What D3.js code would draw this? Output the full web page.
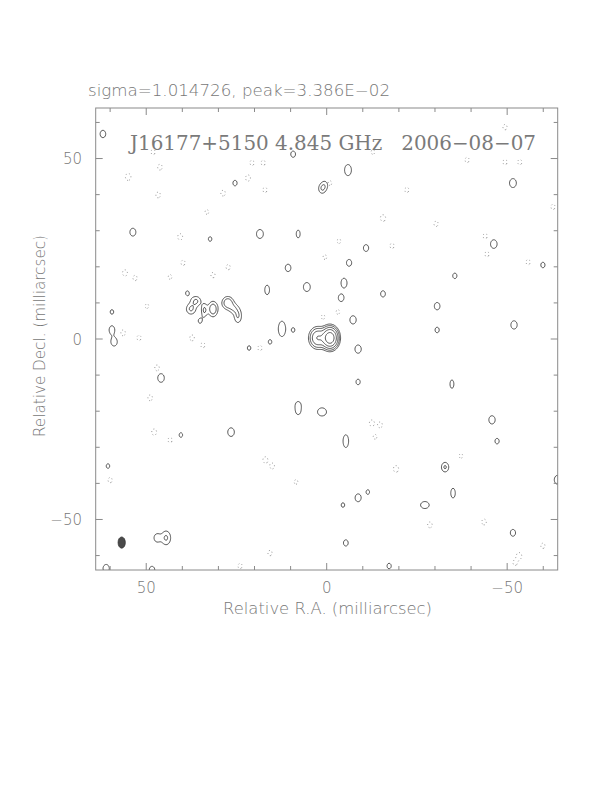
<!DOCTYPE html>
<meta charset="utf-8">
<style>
body { margin: 0; background: #fff; }
text { font-family: "DejaVu Sans", sans-serif; font-weight: 200; fill: #777; }
</style>
<body>
<script src="https://d3js.org/d3.v7.min.js"></script>
<script>
// ---- data (all in milliarcsec / map units) ----
var topTitle = "sigma=1.014726, peak=3.386E\u221202";
var mapTitle = "J16177+5150 4.845 GHz\u00a0\u00a0\u00a02006\u221208\u221207";
var xLabel = "Relative R.A. (milliarcsec)";
var yLabel = "Relative Decl. (milliarcsec)";
var minorTicks = [60, 50, 40, 30, 20, 10, 0, -10, -20, -30, -40, -50, -60];
var majorTicks = [50, 0, -50];
var levels = [1, 2, 4, 8, 16];
var negLevels = [1];

// core: ra, dec, amp, sx, sy
var core = [[-0.9, 0.3, 26, 1.15, 1.5], [2.5, 0.3, 8, 1.25, 1.55]];
// jet knots east of the core
var jet = [
  [37.6, 8.3, 2.2, 1.0, 1.1], [36.2, 10.5, 2.2, 1.0, 1.0],
  [33.9, 8.0, 2.2, 0.6, 1.3], [31.5, 8.3, 3.2, 0.9, 1.4],
  [27.4, 10.0, 3.3, 1.05, 1.15], [25.8, 8.4, 1.7, 0.9, 1.0],
  [24.6, 6.4, 2.1, 0.8, 1.5]
];
// small positive islands: ra, dec, amp[, sx, sy]
var islands = [
  [62.0, 56.8, 1.6], [-5.9, 46.8, 2.0, 0.8, 1.3], [9.3, 51.2, 1.4], [0.5, 42.7, 1.3],
  [1.3, 41.6, 1.8], [25.4, 43.2, 1.3], [-51.6, 43.2, 2.0], [53.7, 29.6, 1.7],
  [18.5, 29.1, 2.0], [7.9, 29.1, 1.6, 0.55, 1.1], [32.3, 27.7, 1.2], [-46.3, 26.3, 1.9],
  [-10.9, 25.2, 1.5], [-35.5, 17.5, 1.3], [-6.2, 21.1, 1.5], [10.7, 19.7, 1.6],
  [-59.9, 20.5, 1.3], [-15.6, 12.5, 1.4], [-4.8, 15.5, 1.7, 0.8, 1.3], [-4.0, 11.4, 1.6],
  [-30.6, 9.1, 1.6], [5.5, 14.4, 2.0], [16.5, 13.6, 1.8, 0.6, 1.2], [12.4, 2.8, 2.0, 0.85, 1.8],
  [9.3, 2.5, 1.2], [59.5, 2.5, 1.6, 0.8, 1.2], [58.9, -0.8, 1.8], [59.5, 7.5, 1.2],
  [-30.6, 2.5, 1.3], [-51.9, 3.9, 1.8], [-7.3, 5.3, 1.8], [-8.7, -2.8, 1.8],
  [45.9, -10.8, 1.9], [-34.7, -12.5, 1.6, 0.55, 1.2], [-8.7, -11.9, 1.3], [7.9, -18.3, 1.5],
  [7.9, -20.2, 1.2], [1.3, -20.2, 2.0, 1.05, 0.95], [-5.3, -28.3, 2.0, 0.65, 1.5], [26.5, -25.8, 1.9],
  [-45.8, -22.4, 1.8], [-47.2, -28.3, 1.3], [-32.8, -35.5, 2.2], [40.4, -26.6, 1.2],
  [-35.0, -42.7, 1.7, 0.6, 1.3], [-27.2, -46.0, 1.9, 1.05, 0.85], [-8.7, -44.0, 1.7], [-11.4, -42.4, 1.2],
  [-4.5, -46.0, 1.2], [-5.3, -56.5, 1.4], [47.0, -55.1, 1.7], [44.5, -55.1, 2.2, 1.0, 1.5],
  [61.1, -63.6, 1.8], [48.4, -64.0, 1.6], [-17.3, -62.9, 1.3], [-64.0, -39.0, 2.0],
  [-51.6, -53.7, 1.5], [60.6, -35.2, 1.2], [38.6, 12.7, 1.2], [35.1, 5.0, 1.2],
  [15.7, -0.8, 1.2], [21.5, -2.5, 1.2]
];
// negative islands (dotted): ra, dec, depth
var holes = [
  [55.0, 44.9, 1.8], [46.2, 47.6, 1.5], [46.7, 39.9, 1.5], [40.6, 28.3, 1.6],
  [39.8, 21.1, 1.4], [55.9, 18.3, 1.6], [53.1, 16.9, 1.4], [43.4, 17.2, 1.3],
  [31.5, 17.7, 1.4], [27.3, 19.9, 1.4], [21.8, 44.6, 1.6], [28.7, 40.4, 1.5],
  [17.1, 41.3, 1.4], [17.6, 48.8, 1.4], [20.7, 48.8, 1.4], [33.2, 35.2, 1.3],
  [49.8, 9.1, 1.3], [56.4, 1.7, 1.5], [52.0, 0.3, 1.4], [37.3, 0.3, 1.5],
  [34.3, -1.7, 1.4], [18.5, -2.5, 1.4], [1.0, 6.1, 1.3], [-0.9, 43.2, 1.3],
  [-3.4, 27.1, 1.3], [0.5, 22.7, 1.3], [-3.1, 7.5, 1.3], [48.1, 51.8, 1.4],
  [-12.8, 51.8, 1.3], [-38.9, 49.6, 1.4], [-49.4, 49.0, 1.4], [-53.5, 49.0, 1.4],
  [-49.4, 58.7, 1.4], [-22.2, 41.3, 1.4], [-15.6, 33.5, 1.7], [-30.3, 31.9, 1.4],
  [-43.9, 28.5, 1.4], [-44.4, 23.5, 1.4], [-55.8, 21.3, 1.4], [-62.7, 36.6, 1.4],
  [-12.5, -23.3, 1.6], [-14.8, -23.8, 1.5], [-19.2, -36.0, 1.7], [-37.2, -32.4, 1.3],
  [-43.6, -50.7, 1.5], [-28.6, -51.5, 1.5], [-53.3, -60.1, 1.7], [-59.9, -57.3, 1.4],
  [47.0, -8.0, 1.5], [48.9, -16.3, 1.5], [47.8, -25.8, 1.6], [43.4, -28.0, 1.4],
  [60.0, -39.1, 1.4], [17.0, -33.5, 1.6], [15.1, -35.2, 1.5], [15.7, -59.3, 1.4],
  [8.5, -39.6, 1.3], [24.0, -62.9, 1.4], [-52.2, -62.0, 1.4], [-13.4, -27.1, 1.3],
  [-18.1, 25.8, 1.4]
];
// restoring beam: ra, dec, half-width, half-height
var beam = [56.8, -56.4, 1.0, 1.55];

// ---- layout ----
var half = 64, step = 0.25;
var n = Math.round(2 * half / step) + 1;

var x = d3.scaleLinear().domain([half, -half]).range([95.7, 557.7]);
var y = d3.scaleLinear().domain([half, -half]).range([108, 570]);

var svg = d3.select("body").append("svg")
    .attr("width", 612)
    .attr("height", 792);

svg.append("clipPath").attr("id", "plotclip")
  .append("rect")
    .attr("x", x(half)).attr("y", y(half))
    .attr("width", x(-half) - x(half)).attr("height", y(-half) - y(half));

// ---- build the map grid from the components ----
var pos = new Float64Array(n * n), neg = new Float64Array(n * n);
function addComp(grid, c, dflt) {
  var ra = c[0], dec = c[1], a = c[2],
      sx = c[3] || dflt[0], sy = c[4] || dflt[1];
  var i0 = Math.max(0, Math.floor((half - ra - 4 * sx) / step)),
      i1 = Math.min(n - 1, Math.ceil((half - ra + 4 * sx) / step)),
      j0 = Math.max(0, Math.floor((half - dec - 4 * sy) / step)),
      j1 = Math.min(n - 1, Math.ceil((half - dec + 4 * sy) / step));
  for (var j = j0; j <= j1; j++) {
    var dy = (half - j * step - dec) / sy;
    for (var i = i0; i <= i1; i++) {
      var dx = (half - i * step - ra) / sx;
      grid[i + j * n] += a * Math.exp(-0.5 * (dx * dx + dy * dy));
    }
  }
}
core.concat(jet).forEach(function(c) { addComp(pos, c, [0.8, 1.1]); });
islands.forEach(function(c) { addComp(pos, c, [0.8, 1.05]); });
holes.forEach(function(c) { addComp(neg, c, [0.7, 0.9]); });

var toScreen = d3.geoTransform({
  point: function(gx, gy) {
    this.stream.point(x(half - (gx - 0.5) * step), y(half - (gy - 0.5) * step));
  }
});
var path = d3.geoPath(toScreen);

var g = svg.append("g").attr("clip-path", "url(#plotclip)");

g.selectAll("path.neg")
    .data(d3.contours().size([n, n]).thresholds(negLevels)(neg))
  .enter().append("path")
    .attr("class", "neg")
    .attr("d", path)
    .attr("fill", "none")
    .attr("stroke", "#888")
    .attr("stroke-width", 0.9)
    .attr("stroke-dasharray", "1,2.5");

g.selectAll("path.pos")
    .data(d3.contours().size([n, n]).thresholds(levels)(pos))
  .enter().append("path")
    .attr("class", "pos")
    .attr("d", path)
    .attr("fill", "none")
    .attr("stroke", "#404040")
    .attr("stroke-width", 0.9);

// beam
g.append("ellipse")
    .attr("cx", x(beam[0])).attr("cy", y(beam[1]))
    .attr("rx", Math.abs(x(beam[0] + beam[2]) - x(beam[0])))
    .attr("ry", Math.abs(y(beam[1] + beam[3]) - y(beam[1])))
    .attr("fill", "#4a4a4a").attr("stroke", "#333").attr("stroke-width", 0.8);

// ---- frame & ticks ----
var frame = svg.append("g").attr("stroke", "#8a8a8a").attr("stroke-width", 1).attr("fill", "none");
frame.append("rect")
    .attr("x", x(half)).attr("y", y(half))
    .attr("width", x(-half) - x(half)).attr("height", y(-half) - y(half));

minorTicks.forEach(function(t) {
  var len = majorTicks.indexOf(t) >= 0 ? 7 : 4;
  frame.append("line").attr("x1", x(t)).attr("x2", x(t)).attr("y1", y(-half)).attr("y2", y(-half) - len);
  frame.append("line").attr("x1", x(t)).attr("x2", x(t)).attr("y1", y(half)).attr("y2", y(half) + len);
  frame.append("line").attr("y1", y(t)).attr("y2", y(t)).attr("x1", x(half)).attr("x2", x(half) + len);
  frame.append("line").attr("y1", y(t)).attr("y2", y(t)).attr("x1", x(-half)).attr("x2", x(-half) - len);
});

function fmt(t) { return t < 0 ? "\u2212" + (-t) : "" + t; }

svg.selectAll("text.xt")
    .data(majorTicks)
  .enter().append("text")
    .attr("class", "xt")
    .attr("x", function(d) { return x(d); })
    .attr("y", 593)
    .attr("text-anchor", "middle")
    .style("font-size", "15px")
    .text(fmt);

svg.selectAll("text.yt")
    .data(majorTicks)
  .enter().append("text")
    .attr("class", "yt")
    .attr("x", 82)
    .attr("y", function(d) { return y(d) + 5.5; })
    .attr("text-anchor", "end")
    .style("font-size", "15px")
    .text(fmt);

// ---- titles & labels ----
svg.append("text")
    .attr("x", 88).attr("y", 96)
    .attr("textLength", 302).attr("lengthAdjust", "spacingAndGlyphs")
    .style("font-size", "15px")
    .text(topTitle);

svg.append("text")
    .attr("x", 130).attr("y", 150)
    .attr("textLength", 406).attr("lengthAdjust", "spacingAndGlyphs")
    .style("font-family", "'DejaVu Serif', serif")
    .style("font-weight", "normal")
    .style("font-size", "20px")
    .style("fill", "#7a7a7a")
    .text(mapTitle);

svg.append("text")
    .attr("x", 327.5).attr("y", 614)
    .attr("text-anchor", "middle")
    .attr("textLength", 209).attr("lengthAdjust", "spacingAndGlyphs")
    .style("font-size", "15px")
    .text(xLabel);

svg.append("text")
    .attr("transform", "translate(45,336) rotate(-90)")
    .attr("text-anchor", "middle")
    .attr("textLength", 202).attr("lengthAdjust", "spacingAndGlyphs")
    .style("font-size", "15px")
    .text(yLabel);
</script>
</body>
